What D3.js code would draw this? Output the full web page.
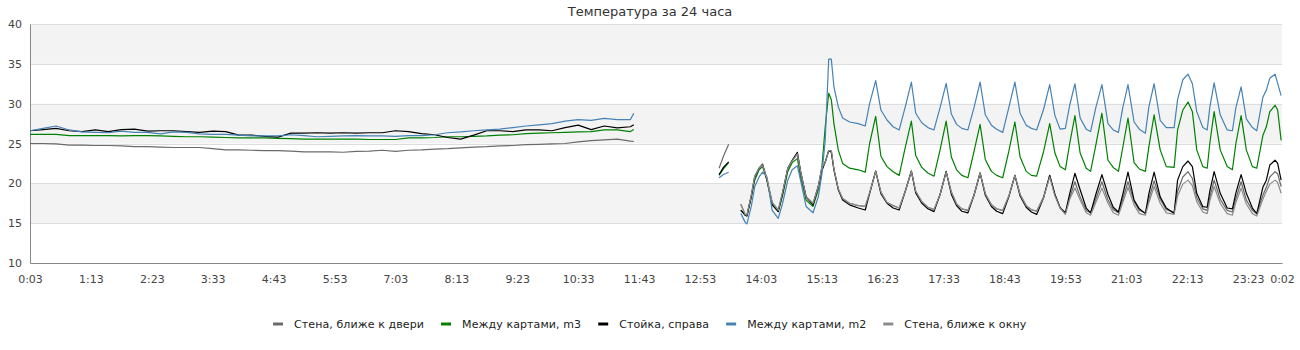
<!DOCTYPE html>
<html>
<head>
<meta charset="utf-8">
<script src="https://cdn.jsdelivr.net/npm/d3@7"></script>
<style>
  body { margin: 0; background: #fff; }
  text { font-family: "DejaVu Sans", sans-serif; }
</style>
</head>
<body>
<div id="chart"></div>
<script>
// Temperature over 24 hours, 5 sensors

var _ = null;

var chartTitle = "Температура за 24 часа";

var seriesNames = ["Стена, ближе к двери", "Между картами, m3", "Стойка, справа", "Между картами, m2", "Стена, ближе к окну"];
var seriesColors = ["#6a6a6a", "#008000", "#000000", "#4682b4", "#8c8c8c"];

var xTickLabels = ["0:03", "1:13", "2:23", "3:33", "4:43", "5:53", "7:03", "8:13", "9:23", "10:33", "11:43",
    "12:53", "14:03", "15:13", "16:23", "17:33", "18:43", "19:53", "21:03", "22:13", "23:23", "0:02"];
var yTicks = [10, 15, 20, 25, 30, 35, 40];

// minutes since midnight of the first day
var times = [
    3, 18, 33, 48, 63, 78, 93, 108, 123, 138, 153, 168, 183, 198, 213, 228, 243, 258, 273, 288, 303, 318, 333, 348,
    363, 378, 393, 408, 423, 438, 453, 468, 483, 498, 513, 528, 543, 558, 573, 588, 603, 618, 633, 648, 663, 678, 693, 697,
    750,
    795, 800, 806,
    812,
    820, 825, 827, 832, 836, 841, 845, 850, 856, 863, 868, 874, 879, 885, 889, 895, 903, 909, 913, 917, 921, 924, 927,
    932, 937, 945, 955, 963, 968, 975, 981, 988, 995, 1002,
    1009, 1016, 1021, 1028, 1035, 1042, 1049, 1056, 1062, 1068, 1074, 1081, 1088, 1095, 1101, 1108, 1114, 1121,
    1128, 1135, 1141, 1148, 1154, 1160, 1168, 1175, 1181, 1187, 1193,
    1198, 1204, 1210, 1217, 1222, 1228, 1235, 1242, 1248, 1254, 1259, 1265, 1272, 1278, 1285, 1289, 1295, 1302, 1309, 1318,
    1322, 1328, 1334, 1339, 1344, 1351, 1356, 1359, 1364, 1371, 1379, 1385, 1389, 1395, 1401, 1408, 1413,
    1420, 1424, 1428, 1434, 1437, 1441
];

var wallDoor = [
    25.0, 25.0, 24.95, 24.8, 24.8, 24.75, 24.75, 24.7, 24.6, 24.6, 24.55, 24.5, 24.5, 24.5, 24.35, 24.2, 24.2, 24.15, 24.1, 24.1, 24.05, 23.95, 23.95, 23.95,
    23.9, 24.0, 24.05, 24.15, 24.0, 24.15, 24.2, 24.3, 24.35, 24.45, 24.55, 24.6, 24.7, 24.75, 24.85, 24.9, 24.95, 25.0, 25.2, 25.35, 25.45, 25.55, 25.3, 25.25,
    _,
    21.9, 23.4, 24.9,
    _,
    17.4, 16.1, 16.0, 18.5, 20.9, 21.9, 22.3, 20.6, 17.6, 16.65, 18.9, 21.9, 22.8, 23.7, 21.3, 18.3, 17.5, 19.6, 22.0, 22.6, 24.1, 24.1, 21.8,
    19.3, 18.1, 17.5, 17.2, 17.1, 18.8, 21.5, 18.9, 17.6, 17.2, 16.9,
    19.0, 21.5, 19.0, 17.7, 17.0, 16.7, 18.6, 21.45, 18.9, 17.4, 16.8, 16.6, 18.5, 21.3, 18.7, 17.3, 16.8, 16.6,
    18.4, 21.0, 18.6, 17.2, 16.7, 16.5, 18.3, 21.0, 18.6, 17.0, 16.2,
    18.2, 20.2, 18.3, 16.6, 16.3, 18.0, 20.2, 17.9, 16.7, 16.3, 18.0, 20.2, 17.7, 16.6, 16.3, 18.0, 20.3, 18.0, 16.7, 16.4,
    19.0, 20.8, 21.46, 20.6, 18.2, 16.8, 16.6, 18.2, 20.4, 18.0, 16.6, 16.4, 18.1, 20.2, 17.9, 16.6, 16.2,
    18.5, 19.5, 20.8, 21.46, 21.2, 19.6
];

var cardsM3 = [
    26.15, 26.15, 26.15, 26.0, 26.0, 26.0, 26.0, 25.95, 26.0, 26.0, 25.95, 25.9, 25.85, 25.85, 25.8, 25.75, 25.7, 25.7, 25.7, 25.65, 25.6, 25.55, 25.55, 25.55,
    25.55, 25.55, 25.5, 25.5, 25.5, 25.7, 25.7, 25.75, 25.85, 25.85, 25.9, 25.95, 26.05, 26.1, 26.25, 26.3, 26.35, 26.4, 26.45, 26.5, 26.7, 26.7, 26.5, 26.75,
    _,
    21.0, 21.8, 22.6,
    _,
    16.6, 16.0, 15.9, 18.3, 20.4, 21.7, 22.1, 20.4, 17.5, 16.45, 18.5, 21.5, 22.6, 23.1, 20.6, 17.9, 17.1, 19.2, 21.8, 27.1, 31.3, 30.5, 27.5,
    24.2, 22.5, 21.9, 21.7, 21.4, 25.0, 28.4, 23.4, 22.1, 21.46, 21.0,
    24.5, 27.8, 23.5, 22.0, 21.3, 20.9, 24.2, 27.8, 23.3, 21.7, 21.0, 20.7, 24.0, 27.4, 23.0, 21.5, 21.0, 20.7,
    24.0, 27.7, 23.3, 21.5, 21.0, 20.9, 24.0, 27.5, 23.8, 22.1, 21.7,
    25.0, 28.5, 23.8, 21.9, 21.5, 24.8, 28.8, 22.9, 22.0, 21.5, 24.5, 28.2, 22.6, 21.8, 21.5, 24.6, 28.6, 24.2, 22.1, 22.0,
    26.7, 29.2, 30.2, 29.0, 24.2, 22.1, 21.9, 25.0, 29.0, 24.2, 22.1, 21.7, 25.0, 28.5, 24.2, 22.1, 21.9,
    26.0, 27.1, 29.0, 29.8, 29.2, 25.4
];

var rackRight = [
    26.6, 26.75, 26.9, 26.6, 26.5, 26.7, 26.5, 26.75, 26.8, 26.55, 26.6, 26.6, 26.5, 26.4, 26.55, 26.5, 26.05, 26.05, 25.9, 25.8, 26.3, 26.3, 26.35, 26.3,
    26.35, 26.3, 26.35, 26.35, 26.6, 26.5, 26.25, 26.1, 25.75, 25.55, 26.05, 26.6, 26.6, 26.5, 26.7, 26.7, 26.6, 27.0, 27.3, 26.75, 27.2, 26.95, 27.1, 27.35,
    _,
    21.1, 22.0, 22.7,
    _,
    16.65, 16.0, 15.9, 18.3, 20.8, 21.9, 22.4, 20.4, 17.3, 16.45, 18.7, 21.9, 22.9, 23.9, 21.3, 18.3, 17.3, 19.6, 21.5, 22.7, 24.1, 23.9, 21.7,
    19.2, 17.9, 17.3, 16.9, 16.65, 18.7, 21.55, 18.7, 17.5, 16.9, 16.65,
    19.0, 21.55, 18.8, 17.5, 16.8, 16.45, 18.6, 21.5, 18.6, 17.2, 16.5, 16.3, 18.5, 21.3, 18.5, 17.1, 16.5, 16.2,
    18.3, 21.0, 18.4, 17.0, 16.4, 16.1, 18.2, 21.0, 18.6, 16.9, 16.3,
    18.7, 21.26, 19.2, 16.9, 16.3, 18.6, 21.1, 18.6, 17.0, 16.4, 18.6, 21.4, 17.9, 16.8, 16.2, 18.7, 21.4, 18.3, 16.9, 16.2,
    20.4, 22.1, 22.8, 22.1, 18.75, 17.07, 17.0, 19.0, 21.46, 18.75, 16.9, 16.8, 18.8, 21.1, 18.75, 16.9, 16.2,
    19.5, 20.4, 22.3, 22.9, 22.5, 20.4
];

var cardsM2 = [
    26.6, 26.9, 27.2, 26.7, 26.45, 26.4, 26.35, 26.55, 26.4, 26.4, 26.2, 26.45, 26.4, 26.2, 26.15, 26.15, 26.05, 25.95, 25.95, 25.95, 26.1, 26.0, 25.85, 25.9,
    25.95, 26.0, 25.95, 25.95, 25.9, 26.0, 26.0, 26.1, 26.35, 26.45, 26.6, 26.7, 26.8, 27.0, 27.2, 27.35, 27.5, 27.8, 28.0, 27.9, 28.15, 28.0, 28.0, 28.8,
    _,
    20.7, 21.1, 21.4,
    _,
    16.2, 15.1, 14.9, 17.1, 19.6, 20.8, 21.4, 20.8, 16.6, 15.6, 17.5, 20.4, 21.7, 22.2, 20.2, 17.1, 16.3, 18.3, 21.0, 25.4, 35.6, 35.6, 32.1,
    29.6, 28.2, 27.7, 27.5, 27.2, 30.0, 32.9, 29.2, 27.95, 27.1, 26.7,
    29.6, 32.7, 28.8, 27.6, 27.0, 26.7, 29.5, 32.55, 28.7, 27.4, 26.9, 26.7, 29.5, 32.7, 28.6, 27.3, 26.8, 26.4,
    29.5, 32.7, 28.8, 27.3, 26.9, 26.7, 29.3, 32.4, 28.5, 26.8, 26.9,
    29.8, 32.5, 28.2, 26.8, 26.5, 29.5, 32.4, 27.5, 26.7, 26.4, 29.5, 32.4, 27.7, 26.8, 26.3, 29.6, 32.5, 27.9, 27.0, 27.0,
    30.5, 33.0, 33.7, 32.5, 29.0, 27.0, 26.7, 29.5, 32.6, 28.6, 26.7, 26.6, 29.5, 32.1, 28.1, 27.0, 26.6,
    30.8, 31.7, 33.2, 33.7, 32.55, 31.0
];

var wallWindow = [
    _, _, _, _, _, _, _, _, _, _, _, _, _, _, _, _, _, _, _, _, _, _, _, _,
    _, _, _, _, _, _, _, _, _, _, _, _, _, _, _, _, _, _, _, _, _, _, _, _,
    _,
    _, _, _,
    _,
    17.3, 16.1, 16.0, 18.5, 20.9, 21.9, 22.3, 20.6, 17.6, 16.6, 18.9, 21.9, 22.8, 23.7, 21.3, 18.3, 17.5, 19.6, 22.0, 22.6, 24.1, 24.1, 21.8,
    19.3, 18.1, 17.5, 17.2, 17.1, 18.8, 21.5, 18.9, 17.6, 17.2, 16.9,
    19.0, 21.5, 19.0, 17.7, 17.0, 16.7, 18.6, 21.4, 18.9, 17.4, 16.8, 16.6, 18.5, 21.3, 18.7, 17.3, 16.8, 16.6,
    18.4, 21.0, 18.6, 17.2, 16.7, 16.5, 18.2, 20.8, 18.4, 16.9, 16.1,
    18.0, 19.4, 17.9, 16.3, 16.0, 17.6, 19.4, 17.5, 16.3, 16.0, 17.6, 19.5, 17.3, 16.2, 16.0, 17.6, 19.6, 17.5, 16.3, 16.1,
    18.4, 19.9, 20.4, 19.7, 17.7, 16.4, 16.2, 17.8, 19.6, 17.5, 16.2, 16.0, 17.6, 19.4, 17.4, 16.2, 15.9,
    18.0, 19.0, 19.9, 20.4, 20.1, 18.75
];

var seriesValues = [wallDoor, cardsM3, rackRight, cardsM2, wallWindow];
seriesValues.forEach(function (vals, i) {
    if (vals.length !== times.length) {
        throw new Error("series " + i + " has " + vals.length + " values, times has " + times.length);
    }
});

var svgWidth = 1300;
var svgHeight = 350;

var margin = { top: 24, right: 18, bottom: 87, left: 30 };
var chartWidth = svgWidth - margin.left - margin.right;
var chartHeight = svgHeight - margin.top - margin.bottom;

var svg = d3.select("#chart")
    .append("svg")
    .attr("width", svgWidth)
    .attr("height", svgHeight);

var chartGroup = svg.append("g")
    .attr("transform", `translate(${margin.left}, ${margin.top})`);

// tick label "H:MM" -> minutes, the last one rolls past midnight
var xTickValues = xTickLabels.map(function (lbl, i) {
    var p = lbl.split(":");
    var m = +p[0] * 60 + +p[1];
    return i > 0 && m < 60 ? m + 1440 : m;
});

var xScale = d3.scaleLinear()
    .domain([xTickValues[0], xTickValues[xTickValues.length - 1]])
    .range([0, chartWidth]);

var yScale = d3.scaleLinear()
    .domain([d3.min(yTicks), d3.max(yTicks)])
    .range([chartHeight, 0]);

// alternating bands
chartGroup.append("g")
    .selectAll("rect")
    .data(yTicks.slice(0, -1).filter((d, i) => i % 2 === 1))
    .enter()
    .append("rect")
    .attr("x", 0)
    .attr("width", chartWidth)
    .attr("y", d => yScale(d + 5))
    .attr("height", d => yScale(d) - yScale(d + 5))
    .attr("fill", "#f3f3f3");

// grid lines
chartGroup.append("g")
    .selectAll("line")
    .data(yTicks.slice(1))
    .enter()
    .append("line")
    .attr("x1", 0)
    .attr("x2", chartWidth)
    .attr("y1", d => Math.round(yScale(d)) + 0.5)
    .attr("y2", d => Math.round(yScale(d)) + 0.5)
    .attr("stroke", "#dddddd")
    .attr("stroke-width", 1);

var bottomAxis = d3.axisBottom(xScale)
    .tickValues(xTickValues)
    .tickFormat((d, i) => xTickLabels[i])
    .tickSize(0)
    .tickPadding(12);

var leftAxis = d3.axisLeft(yScale)
    .tickValues(yTicks)
    .tickSize(0)
    .tickPadding(8);

var xAxisG = chartGroup.append("g")
    .attr("transform", `translate(0, ${chartHeight})`)
    .call(bottomAxis);

var yAxisG = chartGroup.append("g")
    .call(leftAxis);

[xAxisG, yAxisG].forEach(function (g) {
    g.select(".domain").attr("stroke", "#888888");
    g.selectAll("text")
        .attr("fill", "#444444")
        .style("font-size", "11px")
        .style("font-family", "'DejaVu Sans', sans-serif");
});

// lines
var line = d3.line()
    .defined(d => d[1] != null)
    .x(d => xScale(d[0]))
    .y(d => yScale(d[1]));

chartGroup.append("g")
    .selectAll("path")
    .data(seriesValues)
    .enter()
    .append("path")
    .attr("d", vals => line(vals.map((v, i) => [times[i], v])))
    .attr("fill", "none")
    .attr("stroke", (d, i) => seriesColors[i])
    .attr("stroke-width", 1.2)
    .attr("stroke-linejoin", "round");

// title
svg.append("text")
    .attr("x", svgWidth / 2)
    .attr("y", 16)
    .attr("text-anchor", "middle")
    .attr("fill", "#333333")
    .style("font-size", "13px")
    .text(chartTitle);

// legend
var legend = svg.append("g");
var items = legend.selectAll("g")
    .data(seriesNames)
    .enter()
    .append("g");

items.append("line")
    .attr("x1", 0)
    .attr("x2", 10)
    .attr("y1", 0)
    .attr("y2", 0)
    .attr("stroke", (d, i) => seriesColors[i])
    .attr("stroke-width", 3);

items.append("text")
    .attr("x", 21)
    .attr("y", 4)
    .attr("fill", "#222222")
    .style("font-size", "11px")
    .style("letter-spacing", "0.1px")
    .text(d => d);

var itemGap = 17;
var xPos = 0;
items.each(function () {
    var w = d3.select(this).select("text").node().getComputedTextLength();
    d3.select(this).attr("transform", `translate(${xPos}, 0)`);
    xPos += 21 + w + itemGap;
});
var legendWidth = xPos - itemGap;
legend.attr("transform", `translate(${Math.round(svgWidth / 2 - legendWidth / 2)}, 324)`);
</script>
</body>
</html>
